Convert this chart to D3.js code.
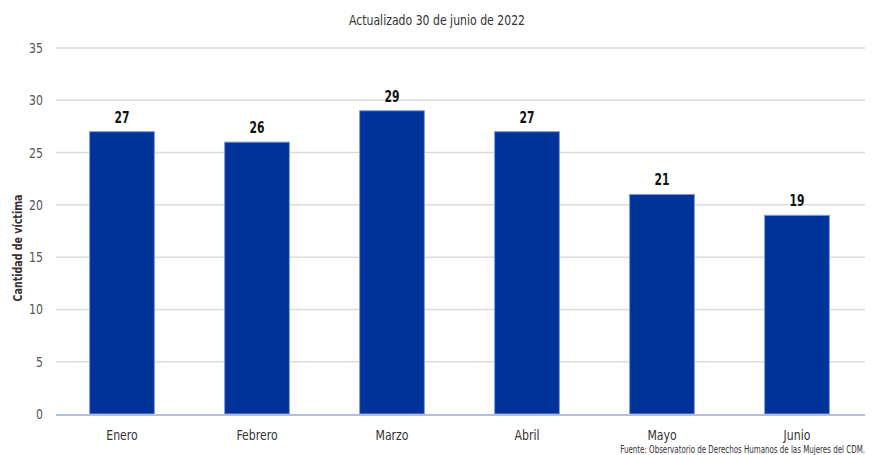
<!DOCTYPE html>
<html>
<head>
<meta charset="utf-8">
<script src="https://cdn.jsdelivr.net/npm/d3@7"></script>
<style>
  body { margin: 0; background: #fff; }
  text { font-family: "DejaVu Sans", sans-serif; }
</style>
</head>
<body>
<script>
const months = ["Enero", "Febrero", "Marzo", "Abril", "Mayo", "Junio"];
const victims = [27, 26, 29, 27, 21, 19];
const yTicks = [0, 5, 10, 15, 20, 25, 30, 35];

const width = 876;
const height = 455;

// the original uses a condensed face, so text is squeezed horizontally
const squeeze = 0.78;

const svg = d3
  .select("body")
  .append("svg")
  .attr("width", width)
  .attr("height", height);

const x = d3
  .scaleBand()
  .domain(months)
  .range([54.5, 864.5])
  .paddingInner(0.52)
  .paddingOuter(0.26);

const y = d3.scaleLinear().domain([0, 35]).range([414, 48]);

// gridlines
svg
  .append("g")
  .selectAll("line")
  .data(yTicks.filter((d) => d > 0))
  .enter()
  .append("line")
  .attr("x1", 56)
  .attr("x2", 865)
  .attr("y1", (d) => y(d))
  .attr("y2", (d) => y(d))
  .attr("stroke", "#dcdcdc")
  .attr("stroke-width", 1.5);

// y axis labels
const yAxis = svg
  .append("g")
  .attr("transform", "translate(43,0)")
  .call(d3.axisLeft(y).tickValues(yTicks).tickSize(0).tickPadding(0));
yAxis.select(".domain").remove();
yAxis
  .selectAll("text")
  .attr("fill", "#555")
  .attr("transform", `scale(${squeeze},1)`)
  .style("font-size", "14px");

// bars
svg
  .append("g")
  .selectAll("rect")
  .data(victims)
  .enter()
  .append("rect")
  .attr("x", (d, i) => x(months[i]))
  .attr("y", (d) => y(d))
  .attr("width", x.bandwidth())
  .attr("height", (d) => y(0) - y(d))
  .attr("fill", "#003399")
  .attr("stroke", "#7f9be0")
  .attr("stroke-width", 1);

// baseline
svg
  .append("line")
  .attr("x1", 56)
  .attr("x2", 865)
  .attr("y1", y(0) + 1)
  .attr("y2", y(0) + 1)
  .attr("stroke", "#b3bde6")
  .attr("stroke-width", 2);

// value labels
svg
  .append("g")
  .selectAll("text")
  .data(victims)
  .enter()
  .append("text")
  .attr("transform", (d, i) =>
    `translate(${x(months[i]) + x.bandwidth() / 2},${y(d) - 9}) scale(0.72,1)`)
  .attr("text-anchor", "middle")
  .attr("fill", "#111")
  .style("font-size", "15px")
  .style("font-weight", "bold")
  .text((d) => d);

// x axis labels
const xAxis = svg
  .append("g")
  .attr("transform", `translate(0,${y(0)})`)
  .call(d3.axisBottom(x).tickSize(0).tickPadding(16));
xAxis.select(".domain").remove();
xAxis
  .selectAll("text")
  .attr("fill", "#333")
  .attr("transform", `scale(${squeeze},1)`)
  .style("font-size", "14px");

// title
svg
  .append("text")
  .attr("transform", `translate(437,25) scale(${squeeze},1)`)
  .attr("text-anchor", "middle")
  .attr("fill", "#333")
  .style("font-size", "14px")
  .text("Actualizado 30 de junio de 2022");

// y axis title
svg
  .append("text")
  .attr("transform", "translate(22,248) rotate(-90) scale(0.73,1)")
  .attr("text-anchor", "middle")
  .attr("fill", "#3a3030")
  .style("font-size", "13px")
  .style("font-weight", "bold")
  .text("Cantidad de víctima");

// source
svg
  .append("text")
  .attr("transform", "translate(865,453) scale(0.71,1)")
  .attr("text-anchor", "end")
  .attr("fill", "#333")
  .style("font-size", "10px")
  .text("Fuente: Observatorio de Derechos Humanos de las Mujeres del CDM.");
</script>
</body>
</html>
